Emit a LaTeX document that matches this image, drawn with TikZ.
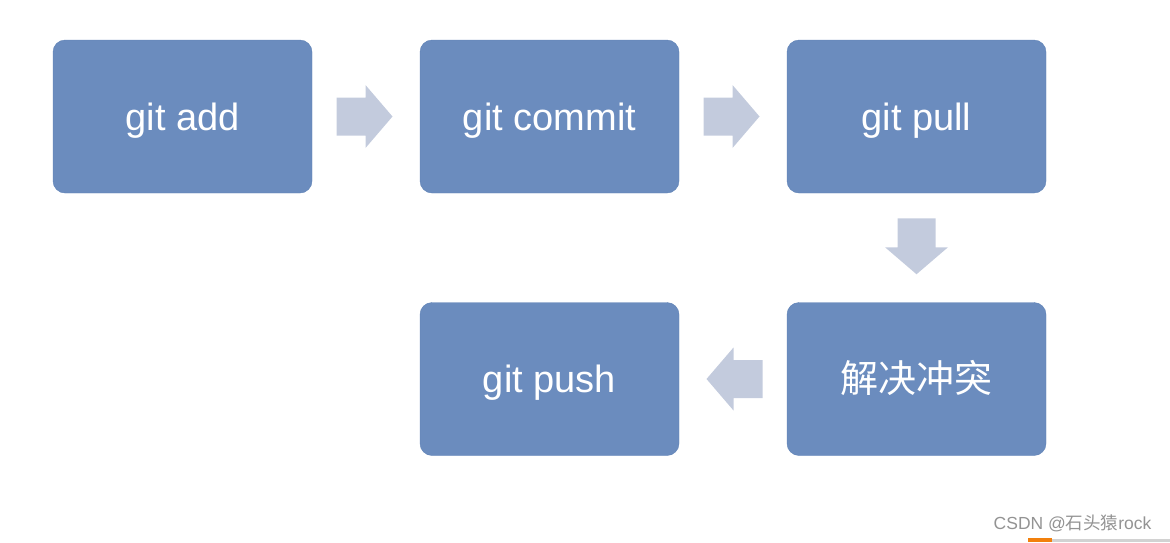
\documentclass[tikz,border=0pt]{standalone}
\usepackage{fontspec}
\setmainfont{Liberation Sans}
\newfontfamily\cjk{Noto Sans CJK SC}
\usepackage{xcolor}
\usetikzlibrary{calc}
\definecolor{boxblue}{HTML}{6B8CBE}
\definecolor{boxedge}{HTML}{5F82B6}
\definecolor{flowgray}{HTML}{C3CBDD}
\tikzset{
    x=1pt, y=-1pt,
    stage/.style={draw=boxedge, fill=boxblue, rounded corners=12pt, text=white,
        minimum width=259pt, minimum height=153pt,
        text height=27.5pt, text depth=0pt,
        font=\fontsize{38}{40}\selectfont},
    flow/.style={fill=flowgray},
    watermark/.style={text=gray!85, font=\fontsize{17.5}{20}\selectfont},
}

\begin{document}
\begin{tikzpicture}
        \useasboundingbox (0,0) rectangle (1170,542);
        \node[stage] (add) at (182.5,116.5) {git add};
        \node[stage] (commit) at (549.5,116.5) {git commit};
        \node[stage] (pull) at (916.5,116.5) {git pull};
        \node[stage] (resolve) at (916.5,379) {\cjk 解决冲突};
        \node[stage] (push) at (549.5,379) {git push};
        \foreach \a/\b/\r in {add/commit/0, commit/pull/0, pull/resolve/-90, resolve/push/180} {
            \coordinate (m) at ($(\a)!0.5!(\b)$);
            \fill[flow, shift={(m)}, rotate=\r] (-29.5,-19) -- (-0.5,-19) -- (-0.5,-31.5)
                -- (26.5,0) -- (-0.5,31.5) -- (-0.5,19) -- (-29.5,19) -- cycle;
        }
        \node[watermark, anchor=east] (csdn) at (1155,523) {CSDN @{\cjk 石头猿}rock};
        \fill[orange!80!brown] (1028,538) rectangle (1052,542);
        \fill[gray!35] (1052,539) rectangle (1170,542);
\end{tikzpicture}
\end{document}
